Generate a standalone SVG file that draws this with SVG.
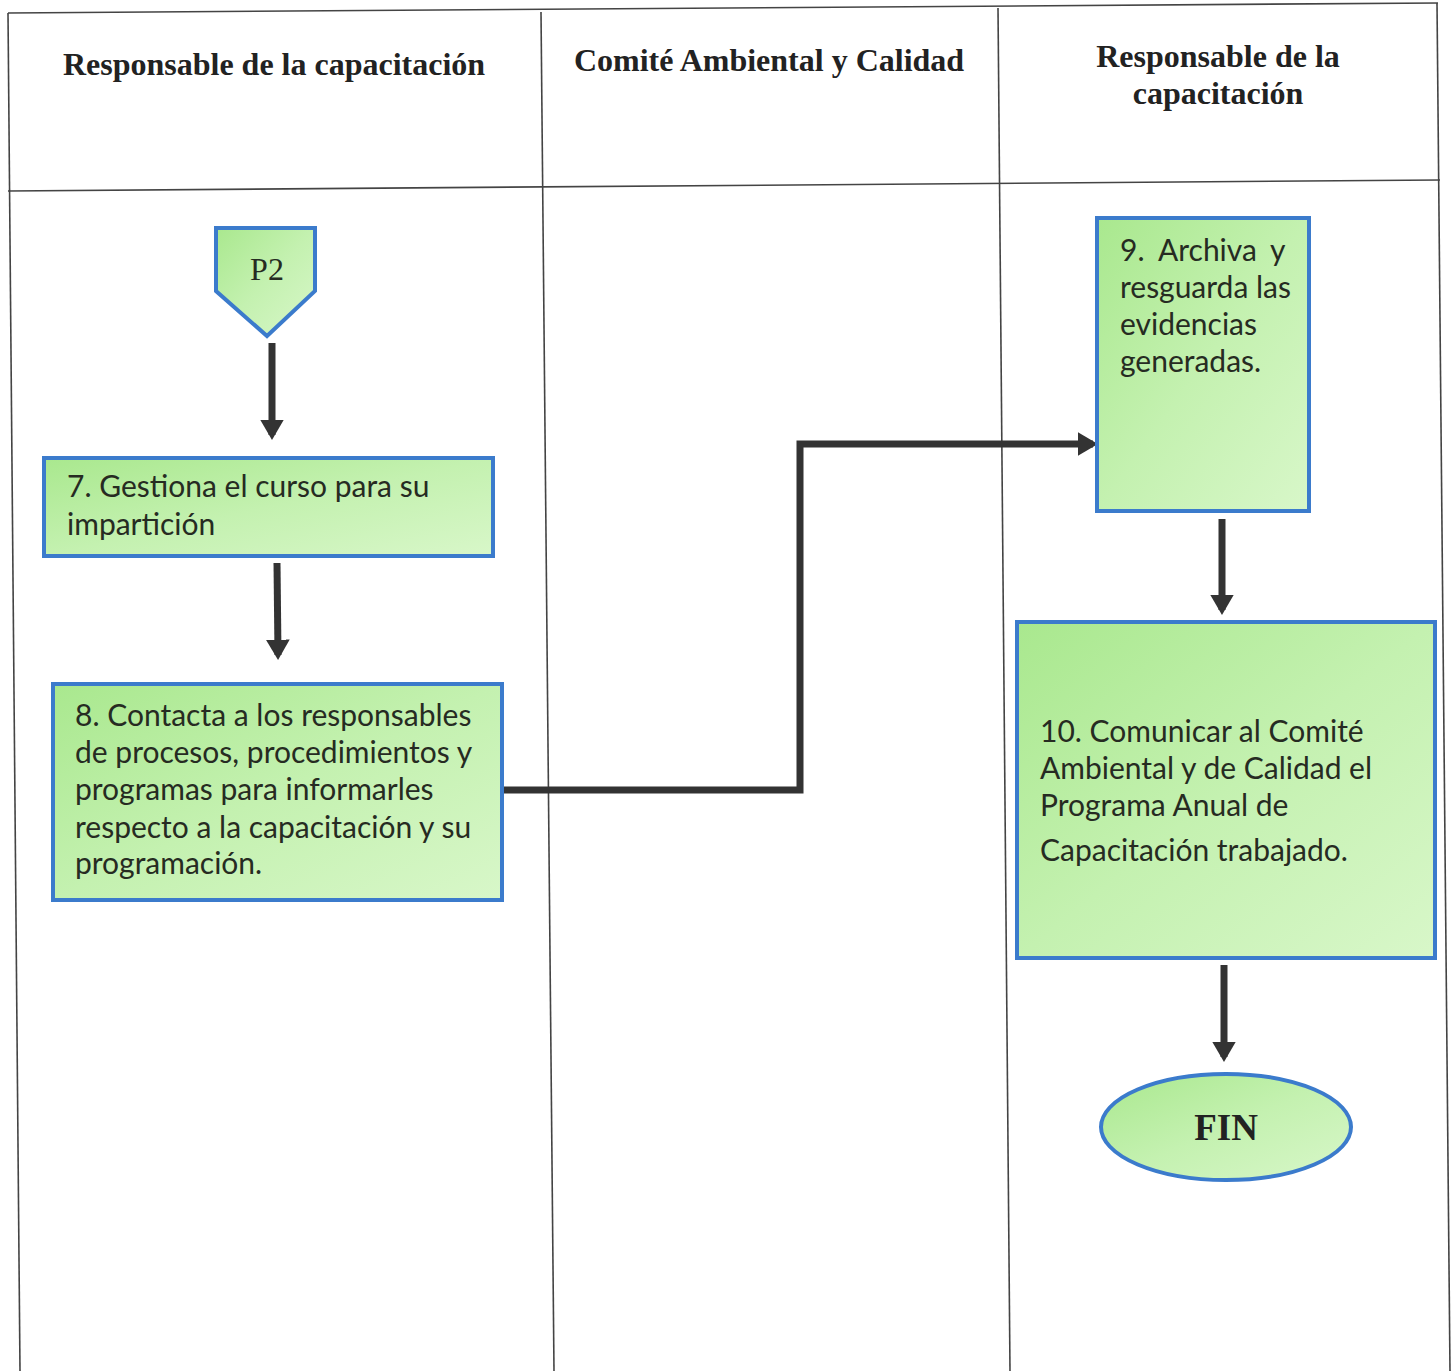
<svg xmlns="http://www.w3.org/2000/svg" width="1455" height="1371" viewBox="0 0 1455 1371">
<defs>
<linearGradient id="g" x1="0" y1="0" x2="1" y2="1">
<stop offset="0" stop-color="#a9e88e"/>
<stop offset="0.5" stop-color="#c4f1b0"/>
<stop offset="1" stop-color="#d8f7c9"/>
</linearGradient>
<marker id="ah" markerWidth="4" markerHeight="4" refX="2.2" refY="2" orient="auto" markerUnits="strokeWidth">
<path d="M0,0.3 L2.9,2 L0,3.7 Z" fill="#333"/>
</marker>
<style>
.grid{stroke:#444;stroke-width:1.6;fill:none}
.hdr{font-family:"Liberation Serif",serif;font-weight:bold;font-size:32px;fill:#222;text-anchor:middle}
.node{fill:url(#g);stroke:#3b7bcc;stroke-width:4}
.t{font-family:Lato,"Open Sans",sans-serif;font-size:30px;fill:#262b22}
.conn{stroke:#333;stroke-width:7;fill:none;marker-end:url(#ah)}
</style>
</defs>
<rect width="1455" height="1371" fill="#fff"/>
<g id="table">
<line class="grid" x1="8" y1="13" x2="1438" y2="3"/>
<line class="grid" x1="8" y1="191" x2="1440" y2="180"/>
<line class="grid" x1="8" y1="13" x2="20" y2="1371"/>
<line class="grid" x1="541" y1="12" x2="554" y2="1371"/>
<line class="grid" x1="998" y1="8" x2="1010" y2="1371"/>
<line class="grid" x1="1437" y1="3" x2="1450" y2="1371"/>
<text class="hdr" x="274" y="75">Responsable de la capacitación</text>
<text class="hdr" x="769" y="71">Comité Ambiental y Calidad</text>
<text class="hdr" x="1218" y="67">Responsable de la</text>
<text class="hdr" x="1218" y="104">capacitación</text>
</g>
<g id="connectors">
<line class="conn" x1="272" y1="343" x2="272" y2="435"/>
<line class="conn" x1="277" y1="563" x2="278" y2="655"/>
<path class="conn" d="M503,790 H800 V444 H1093"/>
<line class="conn" x1="1222" y1="519" x2="1222" y2="610"/>
<line class="conn" x1="1224" y1="965" x2="1224" y2="1057"/>
</g>
<g id="p2">
<path class="node" d="M216,228 H315 V291 L267,336 L216,291 Z"/>
<text x="267" y="280" font-family="Liberation Serif,serif" font-size="32" fill="#262b22" text-anchor="middle">P2</text>
</g>
<g id="n7">
<rect class="node" x="44" y="458" width="449" height="98"/>
<text class="t" x="67" y="497">7. Gestiona el curso para su</text>
<text class="t" x="67" y="535">impartición</text>
</g>
<g id="n8">
<rect class="node" x="53" y="684" width="449" height="216"/>
<text class="t" x="75" y="726">8. Contacta a los responsables</text>
<text class="t" x="75" y="763">de procesos, procedimientos y</text>
<text class="t" x="75" y="800">programas para informarles</text>
<text class="t" x="75" y="838">respecto a la capacitación y su</text>
<text class="t" x="75" y="874">programación.</text>
</g>
<g id="n9">
<rect class="node" x="1097" y="218" width="212" height="293"/>
<text class="t" y="261"><tspan x="1120">9.</tspan><tspan x="1158">Archiva</tspan><tspan x="1270">y</tspan></text>
<text class="t" x="1120" y="298">resguarda las</text>
<text class="t" x="1120" y="335">evidencias</text>
<text class="t" x="1120" y="372">generadas.</text>
</g>
<g id="n10">
<rect class="node" x="1017" y="622" width="418" height="336"/>
<text class="t" x="1040" y="742">10. Comunicar al Comité</text>
<text class="t" x="1040" y="779">Ambiental y de Calidad el</text>
<text class="t" x="1040" y="816">Programa Anual de</text>
<text class="t" x="1040" y="861">Capacitación trabajado.</text>
</g>
<g id="fin">
<ellipse class="node" cx="1226" cy="1127" rx="125" ry="53"/>
<text x="1226" y="1140" font-family="Liberation Serif,serif" font-weight="bold" font-size="37" fill="#222" text-anchor="middle">FIN</text>
</g>
</svg>
